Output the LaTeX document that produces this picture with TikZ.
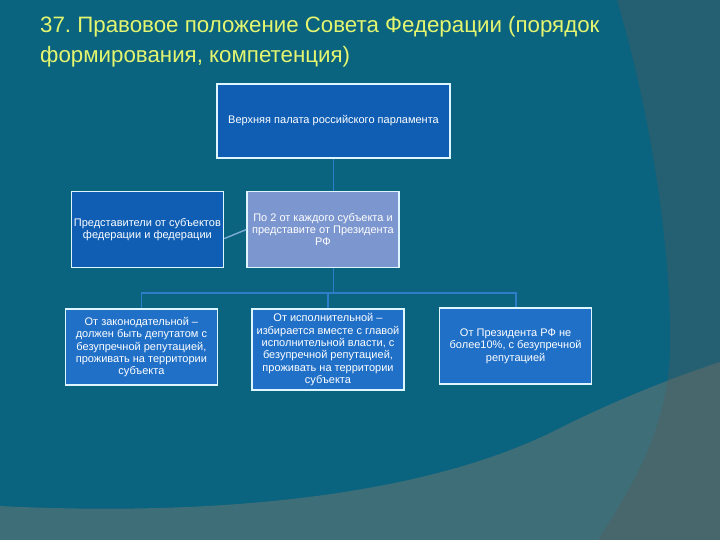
\documentclass[tikz,border=0pt]{standalone}
\usepackage{fontspec}
\setmainfont{Liberation Sans}
\usetikzlibrary{positioning}

\definecolor{bgmain}{RGB}{10,99,127}
\definecolor{bgband}{RGB}{62,110,120}
\definecolor{stripgrey}{RGB}{90,90,90}
\definecolor{titlecol}{RGB}{228,246,112}
\definecolor{boxline}{RGB}{222,246,255}
\definecolor{darkblue}{RGB}{15,94,180}
\definecolor{paleblue}{RGB}{124,150,207}
\definecolor{lightblue}{RGB}{32,112,200}
\definecolor{linkblue}{RGB}{45,125,200}
\definecolor{linkpale}{RGB}{125,172,212}

\begin{document}
\frenchspacing
\begin{tikzpicture}[x=1pt, y=-1pt,
    box/.style = {draw=boxline, line width=1.6pt, text=white, align=center,
        font=\fontsize{11}{12.3}\selectfont, inner sep=2pt,
        minimum width=152pt, minimum height=76pt},
    title/.style = {text=titlecol, font=\fontsize{22.3}{30}\selectfont, inner sep=0pt},
    bus/.style = {draw=linkblue, line width=1.8pt}]
    \useasboundingbox (0,0) rectangle (720,540);
    % background
    \fill[bgmain] (0,0) rectangle (720,540);
    \fill[bgband] (0,506) .. controls (200,516) and (420,500) .. (560,428)
        .. controls (620,398) and (680,375) .. (720,362) -- (720,540) -- (0,540) -- cycle;
    \fill[stripgrey, opacity=0.35] (617,0) .. controls (650,110) and (672,250) .. (670,350)
        .. controls (668,430) and (630,490) .. (598,540) -- (720,540) -- (720,0) -- cycle;
    % title
    \node[title, anchor=base west](t1) at (40,33){37. Правовое положение Совета Федерации (порядок};
    \node[title, anchor=base west](t2) at ([yshift=-30pt]t1.base west){формирования, компетенция)};
    % boxes
    \node[box, fill=darkblue, minimum width=233pt, minimum height=74pt](top) at (333.5,121){Верхняя палата российского парламента};
    \node[box, fill=paleblue](quota)[below=32pt of top, xshift=-10.5pt]{По 2 от каждого субъекта и\\ представите от Президента\\ РФ};
    \node[box, fill=darkblue](reps)[left=22pt of quota]{Представители от субъектов\\ федерации и федерации};
    \node[box, fill=lightblue, minimum height=81pt](exe)[below=40pt of quota, xshift=5pt]{От исполнительной –\\ избирается вместе с главой\\ исполнительной власти, с\\ безупречной репутацией,\\ проживать на территории\\ субъекта};
    \node[box, fill=lightblue](leg)[left=33pt of exe, yshift=2.5pt]{От законодательной –\\ должен быть депутатом с\\ безупречной репутацией,\\ проживать на территории\\ субъекта};
    \node[box, fill=lightblue](pres)[right=34pt of exe, yshift=3.5pt]{От Президента РФ не\\ более10\%, с безупречной\\ репутацией};
    % connectors
    \coordinate (hub) at (top.south |- 0,293);
    \draw[bus] (top.south) -- (top.south |- quota.north);
    \draw[bus] (quota.south -| hub) -- (hub);
    \draw[bus] (hub) -| (leg.north);
    \draw[bus] (hub) -| (pres.north);
    \draw[bus] (hub) -| (exe.north);
    \draw[linkpale, line width=1.4pt] ([yshift=-9pt]reps.east) -- (quota.west);
\end{tikzpicture}
\end{document}
